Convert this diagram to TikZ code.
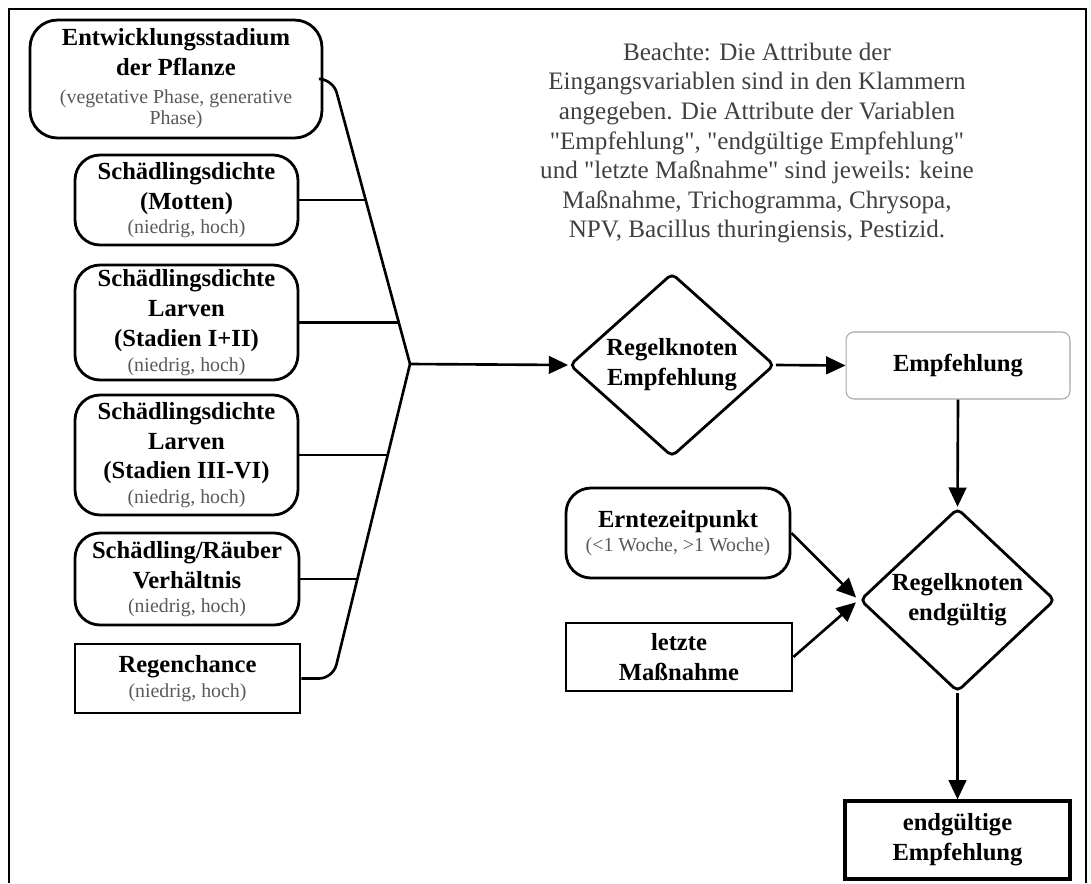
\documentclass[tikz,border=0pt]{standalone}
\usepackage{fontspec}
\setmainfont{Liberation Serif}
\usetikzlibrary{shapes.geometric,arrows.meta}

\colorlet{attrgray}{black!65}
\colorlet{notegray}{black!75}
\newcommand{\attr}[1]{{\fontsize{11.3}{13.5}\selectfont\mdseries\color{attrgray}#1}}
\newcommand{\qt}{\textquotedbl}

\begin{document}
\begin{tikzpicture}[x=0.02cm,y=-0.02cm,
		every node/.style={font=\fontsize{14}{17}\selectfont\bfseries, align=center, inner sep=0pt},
		attrbox/.style={draw, line width=1.6pt, rounded corners=0.5cm, minimum width=4.46cm},
		attrrect/.style={draw, line width=1.6pt, minimum width=4.5cm},
		rulediamond/.style={draw, diamond, line width=1.6pt, rounded corners=3pt},
		link/.style={line width=1.5pt},
		arr/.style={link, -{Triangle[length=11pt,width=10pt]}}]

			% frame
			\draw[line width=1.1pt] (9,883) -- (9,9) -- (1086,9) -- (1086,883);
			\useasboundingbox (0,0) rectangle (1091,883);

			% input variables
			\node[attrbox, minimum width=5.84cm, minimum height=2.36cm, rounded corners=0.55cm] (stadium) at (176,79)
				{Entwicklungsstadium\\der Pflanze\\[-1pt]\attr{(vegetative Phase, generative}\\[-5pt]\attr{Phase)}};
			\node[attrbox, minimum height=1.8cm] (motten) at (186.5,200)
				{Schädlingsdichte\\(Motten)\\[-3pt]\attr{(niedrig, hoch)}};
			\node[attrbox, minimum height=2.3cm] (larvenA) at (186.5,322.5)
				{Schädlingsdichte\\Larven\\(Stadien I+II)\\[-3pt]\attr{(niedrig, hoch)}};
			\node[attrbox, minimum height=2.4cm] (larvenB) at (186.5,455)
				{Schädlingsdichte\\Larven\\(Stadien III-VI)\\[-3pt]\attr{(niedrig, hoch)}};
			\node[attrbox, minimum width=4.48cm, minimum height=1.84cm] (verhaeltnis) at (187,579)
				{Schädling/Räuber\\Verhältnis\\[-3pt]\attr{(niedrig, hoch)}};
			\node[attrrect, minimum height=1.38cm] (regen) at (187.5,678.5)
				{Regenchance\\[-3pt]\attr{(niedrig, hoch)}};

			% note
			\node[font=\fontsize{14.3}{16.8}\selectfont, text=notegray] (note) at (757,143)
				{Beachte: Die Attribute der\\Eingangsvariablen sind in den Klammern\\angegeben. Die Attribute der Variablen\\\qt Empfehlung\qt, \qt endgültige Empfehlung\qt\\und \qt letzte Maßnahme\qt{} sind jeweils: keine\\Maßnahme, Trichogramma, Chrysopa,\\NPV, Bacillus thuringiensis, Pestizid.};

			% rule nodes and outputs
			\node[rulediamond, minimum width=4.1cm, minimum height=3.46cm] (regelEmpf) at (672,365) {Regelknoten\\Empfehlung};
			\node[draw=black!35, line width=0.6pt, rounded corners=0.16cm, minimum width=4.48cm, minimum height=1.34cm] (empf) at (958,365.5) {Empfehlung};
			\node[attrbox, minimum width=4.48cm, minimum height=1.8cm] (ernte) at (678,533)
				{Erntezeitpunkt\\[-3pt]\attr{(<1 Woche, >1 Woche)}};
			\node[attrrect, minimum width=4.52cm, minimum height=1.36cm] (letzte) at (679,657) {letzte\\Maßnahme};
			\node[rulediamond, minimum width=3.9cm, minimum height=3.4cm] (regelEnd) at (957.5,600) {Regelknoten\\endgültig};
			\node[attrrect, minimum height=1.56cm, line width=1.8pt] (final) at (957.5,840) {endgültige\\Empfehlung};

			% bracket collecting the inputs
			\coordinate (hub) at (410,364);
			\draw[link, rounded corners=8pt] (stadium.east) -- (333,79) -- (hub);
			\draw[link, rounded corners=8pt] (hub) -- (333,678.5) -- (regen.east);
			\draw[link] (motten.east) -- (366,200);
			\draw[link] (larvenA.east) -- (399,322.5);
			\draw[link] (larvenB.east) -- (387.7,455);
			\draw[link] (verhaeltnis.east) -- (357.3,579);

			\draw[arr] (hub) -- (regelEmpf.west);
			\draw[arr] (regelEmpf.east) -- (empf.west);
			\draw[arr] (empf.south) -- (regelEnd.north);
			\draw[arr, shorten >=2pt] (ernte.east) -- (regelEnd.west);
			\draw[arr, shorten >=2pt] (letzte.east) -- (regelEnd.west);
			\draw[arr] (regelEnd.south) -- (final.north);
		\end{tikzpicture}
\end{document}
